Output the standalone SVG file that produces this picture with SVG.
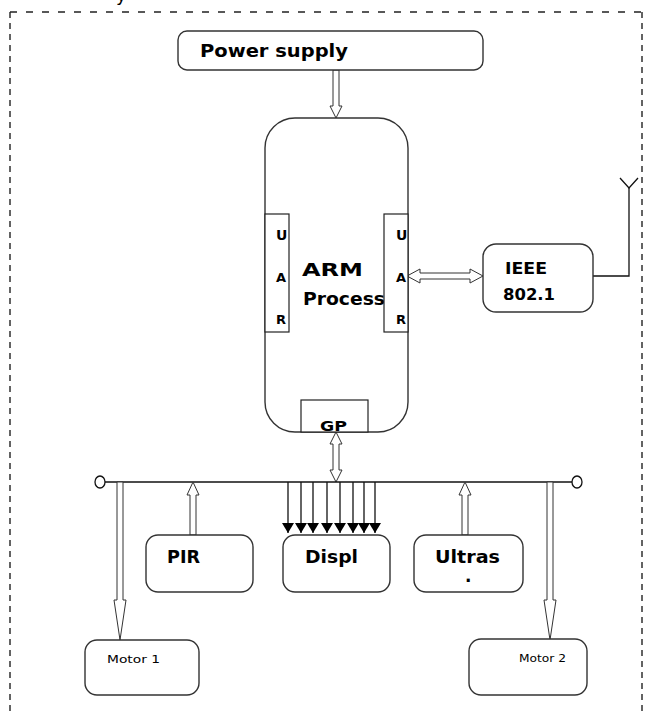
<svg xmlns="http://www.w3.org/2000/svg" width="646" height="716" viewBox="0 0 646 716">
<style>
.box{fill:#fff;stroke:#333;stroke-width:1.4}
.inner{fill:#fff;stroke:#222;stroke-width:1.2}
.harrow{fill:#fff;stroke:#333;stroke-width:1}
.wire{fill:none;stroke:#111;stroke-width:1.3}
.dash-h{fill:none;stroke:#222;stroke-width:1.4;stroke-dasharray:7 9}
.dash-v{fill:none;stroke:#222;stroke-width:1.4;stroke-dasharray:6 5}
.t{font-family:"DejaVu Sans","Liberation Sans",sans-serif;fill:#000}
.b{font-weight:bold}
</style>
<defs>
<marker id="tri" markerWidth="12" markerHeight="10" refX="6" refY="10" orient="0" markerUnits="userSpaceOnUse" viewBox="0 0 12 10">
<path d="M0,0 L12,0 L6,10 Z" fill="#000"/>
</marker>
</defs>
<g id="frame">
<path class="dash-h" d="M10,12 H642"/>
<path class="dash-v" d="M10,12 V716"/>
<path class="dash-v" d="M642,12 V716"/>
<text class="t" x="116" y="1" font-family="Liberation Serif,serif" font-size="18">y</text>
</g>
<g id="connectors">
<path class="harrow" d="M333,70 V106 H330 L336,118 L342,106 H339 V70 Z"/>
<path class="harrow" d="M407,276 L420,269 V273 H470 V269 L483,276 L470,283 V279 H420 V283 Z"/>
<path class="harrow" d="M336,432 L330,444 H333 V470 H330 L336,482 L342,470 H339 V444 H342 Z"/>
<path class="wire" d="M105,482 H572"/>
<ellipse cx="100" cy="482" rx="5" ry="6" fill="#fff" stroke="#111" stroke-width="1.3"/>
<ellipse cx="577" cy="482" rx="5" ry="6" fill="#fff" stroke="#111" stroke-width="1.3"/>
<path class="wire" d="M593,276 H629 V188"/>
<path class="wire" d="M620,178 L629,188 L638,178"/>
<path class="harrow" d="M117,482 V600 H114 L120,640 L126,600 H123 V482 Z"/>
<path class="harrow" d="M547,482 V600 H544 L550,640 L556,600 H553 V482 Z"/>
<path class="harrow" d="M190,535 V495 H187 L193,482 L199,495 H196 V535 Z"/>
<path class="harrow" d="M462,535 V495 H459 L465,482 L471,495 H468 V535 Z"/>
<g class="wire" marker-end="url(#tri)">
<path d="M288,482 V533"/>
<path d="M301,482 V533"/>
<path d="M313,482 V533"/>
<path d="M327,482 V533"/>
<path d="M340,482 V533"/>
<path d="M353,482 V533"/>
<path d="M364,482 V533"/>
<path d="M375,482 V533"/>
</g>
</g>
<g id="power">
<rect class="box" x="178" y="31" width="305" height="39" rx="9"/>
<text class="t b" x="200" y="57" font-size="17" textLength="148" lengthAdjust="spacingAndGlyphs">Power supply</text>
</g>
<g id="arm">
<rect class="box" x="265" y="118" width="143" height="314" rx="30"/>
<text class="t" x="302" y="276" font-size="17" font-weight="600" textLength="61" lengthAdjust="spacingAndGlyphs">ARM</text>
<text class="t" x="303" y="305" font-size="17" font-weight="600" textLength="82" lengthAdjust="spacingAndGlyphs">Process</text>
</g>
<g id="uart-left">
<rect class="inner" x="265" y="214" width="24" height="118"/>
<text class="t b" x="276" y="240" font-size="14">U</text>
<text class="t b" x="276" y="282" font-size="13">A</text>
<text class="t b" x="276" y="324" font-size="13">R</text>
</g>
<g id="uart-right">
<rect class="inner" x="384" y="214" width="24" height="118"/>
<text class="t b" x="396" y="240" font-size="14">U</text>
<text class="t b" x="396" y="282" font-size="13">A</text>
<text class="t b" x="396" y="324" font-size="13">R</text>
</g>
<g id="gp">
<rect class="inner" x="301" y="400" width="67" height="32"/>
<text class="t b" x="320" y="431" font-size="14" textLength="27" lengthAdjust="spacingAndGlyphs">GP</text>
</g>
<g id="ieee">
<rect class="box" x="483" y="244" width="110" height="68" rx="13"/>
<text class="t b" x="505" y="274" font-size="16" textLength="42" lengthAdjust="spacingAndGlyphs">IEEE</text>
<text class="t b" x="503" y="300" font-size="16" textLength="52" lengthAdjust="spacingAndGlyphs">802.1</text>
</g>
<g id="pir">
<rect class="box" x="146" y="535" width="107" height="57" rx="12"/>
<text class="t b" x="167" y="563" font-size="17" textLength="33" lengthAdjust="spacingAndGlyphs">PIR</text>
</g>
<g id="display">
<rect class="box" x="283" y="535" width="107" height="57" rx="12"/>
<text class="t b" x="305" y="563" font-size="17" textLength="53" lengthAdjust="spacingAndGlyphs">Displ</text>
</g>
<g id="ultrasonic">
<rect class="box" x="414" y="535" width="109" height="57" rx="12"/>
<text class="t b" x="435" y="563" font-size="17" textLength="65" lengthAdjust="spacingAndGlyphs">Ultras</text>
<text class="t b" x="465" y="582" font-size="17">.</text>
</g>
<g id="motor1">
<rect class="box" x="85" y="640" width="114" height="55" rx="12"/>
<text class="t" x="107" y="663" font-size="10" textLength="53" lengthAdjust="spacingAndGlyphs">Motor 1</text>
</g>
<g id="motor2">
<rect class="box" x="469" y="639" width="118" height="56" rx="12"/>
<text class="t" x="519" y="662" font-size="10" textLength="47" lengthAdjust="spacingAndGlyphs">Motor 2</text>
</g>
</svg>
